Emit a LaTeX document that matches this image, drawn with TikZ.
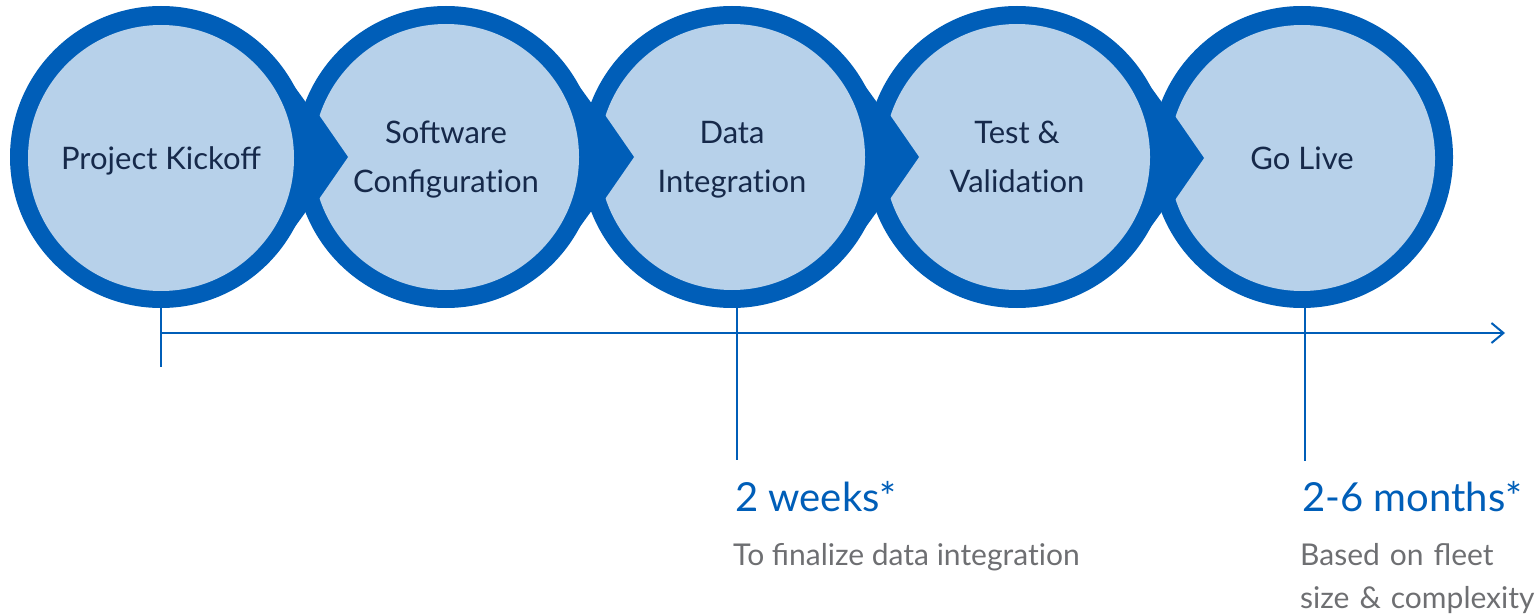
\documentclass[tikz,border=0pt]{standalone}
\usepackage{fontspec}
\setmainfont{Lato}
\usetikzlibrary{arrows.meta}
\definecolor{ringblue}{HTML}{005EB8}
\definecolor{paleblue}{HTML}{B7D1EA}
\definecolor{navytext}{HTML}{16294A}
\definecolor{greytext}{HTML}{6E6F72}
\newcommand{\nolig}{\kern0pt}

\begin{document}
\begin{tikzpicture}[x=1pt,y=-1pt,
		stage/.style={circle, fill=paleblue, minimum size=266pt, inner sep=0pt, align=center, text depth=0pt, text=navytext, font=\fontsize{31}{49}\selectfont},
		timeline/.style={draw=ringblue, line width=2pt},
		duration/.style={anchor=base west, inner sep=0pt, text=ringblue, font=\fontsize{40}{40}\selectfont},
		note/.style={anchor=base west, inner sep=0pt, text=greytext, align=left, font=\fontsize{30}{43}\selectfont},
		]
		\useasboundingbox (0,0) rectangle (1538,615);
		
		% Rings and waists
		\foreach \cx in {161,446,732,1017,1302}
			\fill[ringblue] (\cx,157) circle (151pt);
		\foreach \cx in {161,446,732,1017}
			\fill[ringblue] (\cx+120,68) -- (\cx+149,108) -- (\cx+149,206) -- (\cx+120,246) -- cycle;
		
		%Nodes
		\node[stage] (kickoff) at (161,158) {Project Kickoff};
		\node[stage] (config)  at (446,157) {Software\\Configurat\nolig ion};
		\node[stage] (integ)   at (732,157) {Data\\Integrat\nolig ion};
		\node[stage] (test)    at (1017,157) {Test \&\\Validat\nolig ion};
		\node[stage] (golive)  at (1302,158) {Go Live};
		
		% Notches
		\foreach \n in {config,integ,test,golive}
			\fill[ringblue] ([shift={(-134,-52)}]\n.center) -- ([shift={(-98,0)}]\n.center) -- ([shift={(-134,52)}]\n.center) -- cycle;
		
		%Lines
		\coordinate (tl-end) at (1505,333);
		\draw[timeline] (kickoff.south) -- ++(0,76);
		\draw[timeline] ([xshift=5pt]integ.south) -- ++(0,170);
		\draw[timeline] ([xshift=3pt]golive.south) -- ++(0,170);
		\draw[timeline, -{Straight Barb[length=12pt, width=20pt]}] (kickoff.south |- tl-end) -- (tl-end);
		
		% Durations
		\node[duration] (weeks)       at (735,511) {2 weeks*};
		\node[note]     (weeks-note)  at (733,565) {To finalize data integrat\nolig ion};
		\node[duration] (months)      at (1302,511) {2-6 months*};
		\node[note, text width=240pt] (months-note) at (1300,565) {Based on fleet\\size \& complexity};
		
	\end{tikzpicture}
\end{document}
